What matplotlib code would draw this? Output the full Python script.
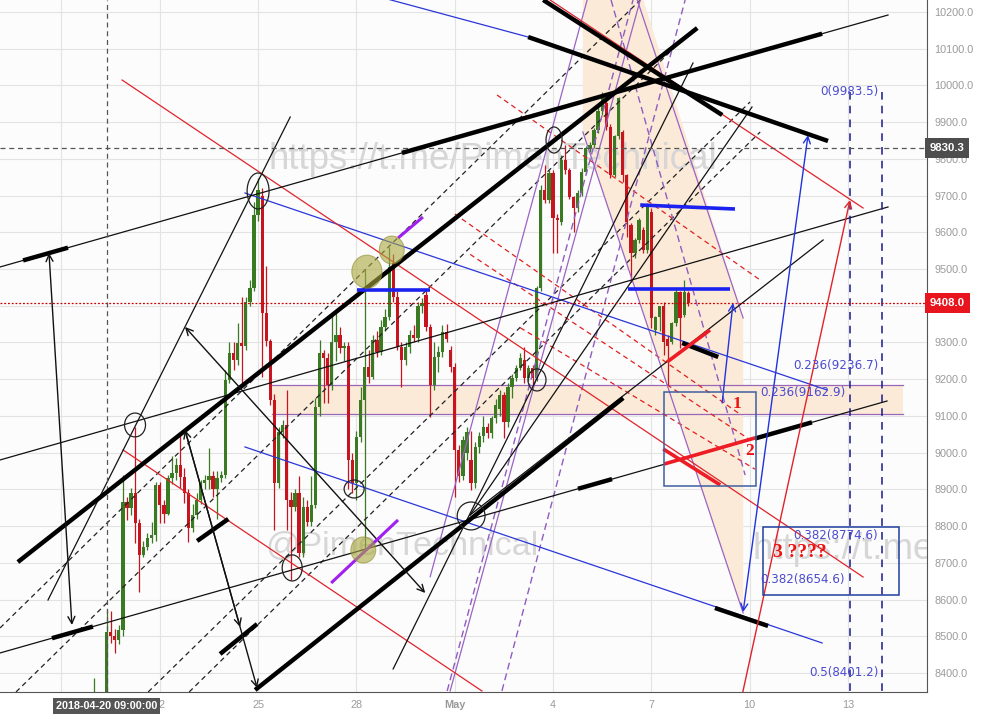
import numpy as np
import matplotlib
matplotlib.use("Agg")
import matplotlib.pyplot as plt
from matplotlib.patches import Ellipse, Rectangle, Polygon, FancyArrowPatch

# ---------------- price bars (3h), x = days since 2018-04-20 00:00 ----------------
bar_start = 0.0
bar_step = 0.125
bar_open = [8290, 8320, 8310,
    8330, 8512, 8500, 8490, 8516, 8866, 8848, 8889, 8807, 8721,
    8744, 8767, 8776, 8912, 8857, 8834, 8930, 8945, 8966, 8934,
    8889, 8794, 8830, 8870, 8916, 8925, 8935, 8900, 8930, 8939,
    9198, 9270, 9252, 9298, 9290, 9411, 9447, 9647, 9700, 9379,
    9303, 9143, 8916, 9057, 9075, 8871, 8853, 8889, 8726, 8853,
    8812, 8857, 9125, 9270, 9257, 9184, 9300, 9320, 9286, 9290,
    8980, 8916, 9043, 9143, 9234, 9207, 9307, 9275, 9343, 9370,
    9516, 9425, 9289, 9252, 9289, 9320, 9311, 9398, 9429, 9343,
    9184, 9261, 9275, 9329, 9280, 9234, 9007, 8935, 9000, 8980,
    8916, 9016, 9044, 9071, 9053, 9093, 9120, 9157, 9084, 9180,
    9202, 9230, 9252, 9202, 9230, 9202, 9447, 9715, 9688, 9761,
    9640, 9629, 9797, 9770, 9697, 9665, 9706, 9765, 9829, 9838,
    9879, 9930, 9951, 9888, 9756, 9861, 9874, 9756, 9620, 9543,
    9579, 9606, 9552, 9656, 9334, 9370, 9398, 9310, 9302, 9352,
    9438, 9375, 9434]
bar_high = [8386, 8340, 8340,
    8571, 8570, 8520, 8530, 8939, 8880, 8903, 9071, 8820, 8760,
    8780, 8810, 8920, 8921, 8870, 8939, 8990, 8985, 9048, 8957,
    8900, 8860, 8890, 8925, 8940, 9012, 8950, 8950, 8950, 9225,
    9302, 9300, 9352, 9424, 9425, 9470, 9683, 9747, 9720, 9507,
    9310, 9160, 9070, 9090, 9170, 8893, 8900, 8935, 8880, 8870,
    8935, 9150, 9307, 9280, 9270, 9380, 9380, 9343, 9300, 9300,
    9000, 9060, 9180, 9497, 9280, 9320, 9330, 9360, 9390, 9561,
    9540, 9440, 9300, 9300, 9335, 9348, 9410, 9420, 9443, 9350,
    9300, 9290, 9348, 9350, 9290, 9245, 9020, 9045, 9070, 9060,
    9030, 9055, 9100, 9080, 9100, 9145, 9170, 9165, 9190, 9215,
    9240, 9270, 9289, 9240, 9240, 9455, 9730, 9783, 9770, 9770,
    9650, 9810, 9838, 9775, 9700, 9715, 9775, 9835, 9845, 9885,
    9940, 9983.5, 9975, 9895, 9865, 9969, 9880, 9760, 9625, 9585,
    9640, 9615, 9680, 9665, 9372, 9400, 9410, 9320, 9355, 9445,
    9440, 9470, 9440]
bar_low = [8260, 8280, 8290,
    8300, 8481, 8453, 8480, 8500, 8816, 8830, 8753, 8621, 8715,
    8735, 8755, 8760, 8807, 8807, 8830, 8915, 8925, 8903, 8862,
    8757, 8785, 8820, 8860, 8900, 8900, 8880, 8820, 8920, 8930,
    9190, 9225, 9240, 9190, 9280, 9400, 9440, 9630, 9207, 9290,
    9130, 8789, 8905, 9040, 8789, 8653, 8840, 8716, 8716, 8800,
    8800, 8850, 9100, 9134, 9134, 9170, 9250, 9270, 9250, 8900,
    8890, 8870, 9030, 8735, 9190, 9200, 9260, 9265, 9330, 9360,
    9410, 9280, 9180, 9240, 9270, 9300, 9300, 9380, 9330, 9098,
    9170, 9220, 9260, 9300, 9220, 8880, 8920, 8925, 8980, 8898,
    8905, 9000, 9030, 9040, 9040, 9080, 9100, 9039, 9070, 9150,
    9195, 9225, 9190, 9195, 9185, 9195, 9440, 9680, 9680, 9543,
    9543, 9620, 9760, 9690, 9602, 9655, 9700, 9760, 9820, 9830,
    9870, 9920, 9880, 9747, 9750, 9855, 9738, 9588, 9466, 9530,
    9570, 9545, 9545, 9340, 9320, 9330, 9266, 9184, 9295, 9345,
    9284, 9370, 9400]
bar_close = [8320, 8310, 8330,
    8512, 8500, 8490, 8516, 8866, 8848, 8889, 8807, 8721, 8744,
    8767, 8776, 8912, 8857, 8834, 8930, 8945, 8966, 8934, 8889,
    8794, 8830, 8870, 8916, 8925, 8935, 8900, 8930, 8939, 9198,
    9270, 9252, 9298, 9290, 9411, 9447, 9647, 9715, 9379, 9303,
    9143, 8916, 9057, 9075, 8871, 8853, 8889, 8726, 8853, 8812,
    8857, 9125, 9270, 9257, 9184, 9300, 9320, 9286, 9290, 8980,
    8916, 9043, 9143, 9234, 9207, 9307, 9275, 9343, 9370, 9506,
    9425, 9289, 9252, 9289, 9320, 9311, 9398, 9407, 9343, 9184,
    9261, 9275, 9329, 9310, 9234, 9007, 8935, 9034, 9057, 8916,
    9016, 9044, 9071, 9053, 9093, 9130, 9157, 9084, 9180, 9202,
    9230, 9257, 9202, 9230, 9202, 9447, 9715, 9688, 9761, 9638,
    9634, 9797, 9770, 9697, 9665, 9706, 9765, 9829, 9838, 9879,
    9930, 9975, 9888, 9756, 9861, 9965, 9756, 9629, 9543, 9579,
    9634, 9552, 9670, 9366, 9370, 9398, 9302, 9290, 9352, 9438,
    9366, 9438, 9408]

last_price = 9408.0
cursor_day = 0.375          # 2018-04-20 09:00
cursor_price = 9830.3

# ---------------- axis labels ----------------
x_tick_days = [2, 5, 8, 11, 14, 17, 20, 23]
x_tick_labels = ["22", "25", "28", "May", "4", "7", "10", "13"]
x_grid_days = [-1, 2, 5, 8, 11, 14, 17, 20, 23]
y_ticks = [8400, 8500, 8600, 8700, 8800, 8900, 9000, 9100, 9200, 9300,
           9400, 9500, 9600, 9700, 9800, 9900, 10000, 10100, 10200]

# ---------------- drawings (day, price) ----------------
# parallel thin black channel lines with thick marked stretches (day ranges)
channel_lines = [((-2.875, 9505.6), (24.22, 10191.8)),
                 ((-2.875, 8980.0), (24.22, 9669.0)),
                 ((-2.875, 8454.4), (24.19, 9140.6))]
channel_thick = [[(-2.17, -0.80), (9.39, 22.21)],
                 [],
                 [(-1.29, -0.04), (14.76, 15.80), (20.16, 21.90)]]

thick_black = [((-2.33, 8702.0), (18.40, 10156.4)),
               ((4.91, 8353.6), (16.14, 9148.8)),
               ((13.70, 10232.7), (19.16, 9919.5)),
               ((13.24, 10131.9), (22.39, 9848.7)),
               ((3.14, 8759.4), (4.09, 8819.3)),
               ((3.84, 8451.6), (4.97, 8533.3)),
               ((17.94, 9298.6), (19.04, 9260.5)),
               ((18.94, 8577.0), (20.56, 8528.0))]

# fan of thin lines through the May 1 low, plus the steep line through the Apr 20-25 pivots
thin_black = [((9.12, 8410.8), (18.27, 10061.1)),
              ((11.47, 8830.2), (22.24, 9579.1)),
              ((11.47, 8830.2), (20.07, 9941.3)),
              ((-1.41, 8598.7), (5.98, 9914.0))]

blue_lines = [((4.60, 9707.1), (22.36, 9170.6)),
              ((4.60, 9015.4), (22.21, 8481.6)),
              ((8.72, 10240.8), (13.24, 10131.9))]

red_lines = [((13.91, 10232.7), (23.46, 9666.2)),
             ((0.85, 10014.8), (23.46, 8661.3)),
             ((0.88, 9007.2), (11.83, 8350.9))]

red_dashed = [((12.29, 9974.0), (20.32, 9470.0)),
              ((11.00, 9650.0), (19.70, 9105.0)),
              ((11.47, 9540.0), (20.01, 9035.0)),
              ((13.00, 9340.0), (20.16, 8955.0))]

black_dashed = [((-2.875, 8522.4), (16.66, 10232.7)),
                ((-2.386, 8348.2), (18.25, 10151.0)),
                ((1.646, 8348.2), (20.01, 9954.9)),
                ((2.897, 8348.2), (20.32, 9873.2))]

purple_lines = [((10.25, 8662.0), (15.04, 10232.7)),
                ((10.86, 8351.0), (16.66, 10232.7)),
                ((14.91, 9873.2), (19.80, 8563.3)),
                ((16.57, 10232.7), (19.80, 9366.7))]
purple_dashed = [((10.77, 8351.0), (16.44, 10232.7)),
                 ((12.44, 8351.0), (18.03, 10232.7)),
                 ((15.77, 10232.7), (19.86, 8939.0))]

blue_levels = [((8.02, 9442.9), (10.25, 9442.9)),
               ((16.29, 9445.6), (19.40, 9445.6)),
               ((16.66, 9674.4), (19.55, 9663.5))]
red_thick = [((17.48, 9246.8), (18.79, 9334.0)),
             ((17.36, 9010.0), (19.10, 8912.0)),
             ((17.39, 8969.0), (20.16, 9040.0))]
violet_marks = [((7.23, 8645.0), (9.27, 8816.6)),
                ((9.27, 9584.5), (10.03, 9641.7))]

black_arrows = [((-1.38, 9543.7), (-0.68, 8530.6), "<->"),
                ((2.77, 9342.2), (10.10, 8617.8), "<->"),
                ((2.77, 9061.7), (4.97, 8359.0), "<->"),
                ((2.77, 9061.7), (4.45, 8525.2), "->")]
blue_arrows = [((19.16, 9135.2), (19.49, 9407.5), "->"),
               ((19.80, 8566.0), (21.78, 9865.0), "<->")]
red_arrows = [((19.77, 8340.0), (23.06, 9688.0), "->")]

olive_marks = [(8.32, 9492.8, 0.92, 90), (9.08, 9551.9, 0.76, 76),
               (8.21, 8734.9, 0.76, 71)]
pivot_rings = [(5.00, 9712.5, 0.67, 98), (1.245, 9075.3, 0.64, 65),
               (6.04, 8686.0, 0.61, 71), (7.93, 8901.0, 0.61, 49),
               (11.50, 8827.5, 0.85, 76), (13.51, 9198.0, 0.55, 60),
               (14.03, 9851.4, 0.49, 71)]

zone_band = (5.42, 24.68, 9104.0, 9184.0)
zone_poly = [(14.91, 10260.0), (16.66, 10260.0), (19.80, 9366.7),
             (19.80, 8563.3), (14.91, 9873.2)]
target_boxes = [(17.39, 20.19, 8909.0, 9166.0, "#3f5f9f"),
                (20.42, 24.57, 8612.0, 8798.3, "#1f3f9f")]

fib_levels = [("0", 9983.5, 23.92), ("0.236", 9236.7, 23.92),
              ("0.236", 9162.9, 22.91), ("0.382", 8774.6, 23.92),
              ("0.382", 8654.6, 22.91), ("0.5", 8401.2, 23.92)]
fib_verticals = [23.05, 24.05]

wave_marks = [("1", 19.49, 9132.0, 12.5), ("2", 19.86, 9004.0, 12.5),
              ("3 ????", 20.72, 8727.0, 14)]

# ---------------- figure ----------------
W, H = 982, 719
Y0, Y1 = 8348.1, 10232.7
fig = plt.figure(figsize=(W / 100, H / 100), dpi=100)
fig.patch.set_facecolor("white")
ax = fig.add_axes([0, 27 / H, 927 / W, 692 / H])
ax.set_facecolor("#fcfcfc")
ax.set_xlim(-2.875, 25.41)
ax.set_ylim(Y0, Y1)

for d in x_grid_days:
    ax.axvline(d, color="#e3e3e3", lw=0.8, zorder=0)
for p in y_ticks:
    ax.axhline(p, color="#e3e3e3", lw=0.8, zorder=0)

# zones
ax.add_patch(Rectangle((zone_band[0], zone_band[2]), zone_band[1] - zone_band[0],
                       zone_band[3] - zone_band[2], facecolor="#fbead7",
                       edgecolor="none", zorder=1))
for p in zone_band[2:]:
    ax.plot(zone_band[:2], [p, p], color="#9a66b8", lw=0.9, zorder=2)
ax.add_patch(Polygon(zone_poly, closed=True, facecolor="#fbead7",
                     edgecolor="none", zorder=1))

# watermarks
wm = dict(color="#d6d6d6", family="Liberation Sans", zorder=2,
          va="center", ha="left", clip_on=True)
ax.text(5.31, 9797, "https://t.me/PimenTechnical", fontsize=26.5, **wm)
ax.text(5.21, 8743, "@PimenTechnical", fontsize=24.5, **wm)
ax.text(20.10, 8735, "https://t.me/PimenTechnical", fontsize=26.5, **wm)

# candles
n = len(bar_close)
t = bar_start + bar_step * np.arange(n)
o = np.array(bar_open); c = np.array(bar_close)
hi = np.array(bar_high); lo = np.array(bar_low)
up = c >= o
col = np.where(up, "#3a7a22", "#c8141e")
ax.vlines(t, lo, hi, colors=col, lw=0.9, zorder=4)
body_lo = np.minimum(o, c)
body_h = np.maximum(np.abs(c - o), 4)
ax.bar(t, body_h, bottom=body_lo, width=0.1, color=col, linewidth=0, zorder=5)


def seg(a, b, **kw):
    ax.plot([a[0], b[0]], [a[1], b[1]], **kw)


for a, b in black_dashed:
    seg(a, b, color="#222222", lw=0.9, dashes=(4, 3), zorder=6)
for a, b in red_dashed:
    seg(a, b, color="#e02020", lw=0.9, dashes=(4, 3), zorder=6)
for a, b in purple_lines:
    seg(a, b, color="#9b63c4", lw=0.9, zorder=6)
for a, b in purple_dashed:
    seg(a, b, color="#8f5cc0", lw=1.0, dashes=(5, 3), zorder=6)
for a, b in blue_lines:
    seg(a, b, color="#2a36d8", lw=0.9, zorder=6)
for a, b in red_lines:
    seg(a, b, color="#e0232a", lw=0.9, zorder=6)
for a, b in thin_black:
    seg(a, b, color="#111111", lw=0.9, zorder=6)
for (a, b), spans in zip(channel_lines, channel_thick):
    seg(a, b, color="#111111", lw=0.9, zorder=6)
    for s0, s1 in spans:
        ys = np.interp([s0, s1], [a[0], b[0]], [a[1], b[1]])
        ax.plot([s0, s1], ys, color="#000000", lw=3.2, solid_capstyle="butt", zorder=7)
for a, b in thick_black:
    seg(a, b, color="#000000", lw=3.2, solid_capstyle="butt", zorder=7)
for a, b in blue_levels:
    seg(a, b, color="#1b22f0", lw=2.6, solid_capstyle="butt", zorder=8)
for a, b in red_thick:
    seg(a, b, color="#ee1c24", lw=2.6, solid_capstyle="butt", zorder=8)
for a, b in violet_marks:
    seg(a, b, color="#a020f0", lw=2.2, solid_capstyle="butt", zorder=8)

for group, colr in ((black_arrows, "#111111"), (blue_arrows, "#2233dd"),
                    (red_arrows, "#e0232a")):
    for a, b, st in group:
        ax.add_patch(FancyArrowPatch(a, b, arrowstyle=st + ",head_length=5,head_width=2.5",
                                     color=colr, lw=1.0, zorder=7,
                                     shrinkA=0, shrinkB=0))

for x, y, w, h in olive_marks:
    ax.add_patch(Ellipse((x, y), w, h, facecolor="#a9a83e", alpha=0.6,
                         edgecolor="#8d8c30", lw=0.8, zorder=9))
for x, y, w, h in pivot_rings:
    ax.add_patch(Ellipse((x, y), w, h, fill=False, edgecolor="#222222",
                         lw=0.9, zorder=9))

for x0, x1, y0, y1, ec in target_boxes:
    ax.add_patch(Rectangle((x0, y0), x1 - x0, y1 - y0, fill=False,
                           edgecolor=ec, lw=1.1, zorder=9))

# fib levels
for x in fib_verticals:
    ax.plot([x, x], [9983.5, 8300], color="#1a1a8a", lw=1.1, dashes=(5, 4), zorder=6)
for lvl, price, xr in fib_levels:
    ax.text(xr, price, f"{lvl}({price:.1f})", color="#4b4bd0", fontsize=8.6,
            family="DejaVu Sans", ha="right", va="center", zorder=10)

for txt, x, y, fs in wave_marks:
    ax.text(x, y, txt, color="#ee1111", fontsize=fs, fontweight="bold",
            family="Liberation Serif", ha="left", va="center", zorder=10)

# cursor and last price
ax.axhline(last_price, color="#cc0000", lw=0.9, dashes=(1.5, 1.5), zorder=6)
ax.axhline(cursor_price, color="#555555", lw=0.9, dashes=(4, 3), zorder=6)
ax.axvline(cursor_day, color="#555555", lw=0.9, dashes=(4, 3), zorder=6)

# axes styling
for s in ("top", "left"):
    ax.spines[s].set_visible(False)
ax.spines["right"].set_color("#555555")
ax.spines["bottom"].set_color("#555555")
ax.yaxis.tick_right()
ax.set_yticks(y_ticks)
ax.set_yticklabels([f"{p:.1f}" for p in y_ticks])
ax.tick_params(axis="y", length=0, pad=5.5, labelsize=7.8, labelcolor="#9a9a9a")
ax.set_xticks(x_tick_days)
ax.set_xticklabels(x_tick_labels)
ax.tick_params(axis="x", length=0, pad=6, labelsize=7.8, labelcolor="#9a9a9a")
for lab in ax.get_xticklabels() + ax.get_yticklabels():
    lab.set_family("Liberation Sans")
    if lab.get_text() == "May":
        lab.set_fontweight("bold")

box_txt = dict(ha="left", va="center", fontsize=8.2, fontweight="bold",
               color="white", family="Liberation Sans", zorder=20)
ax.text(1.003, (cursor_price - Y0) / (Y1 - Y0), f"{cursor_price:.1f}",
        transform=ax.transAxes,
        bbox=dict(boxstyle="square,pad=0.42", fc="#4d4d4d", ec="none"), **box_txt)
ax.text(1.003, (last_price - Y0) / (Y1 - Y0), f"{last_price:.1f}",
        transform=ax.transAxes,
        bbox=dict(boxstyle="square,pad=0.42", fc="#e8141e", ec="none"), **box_txt)
ax.text(cursor_day, -0.013, "2018-04-20 09:00:00", transform=ax.get_xaxis_transform(),
        ha="center", va="top", fontsize=7.8, fontweight="bold", color="white",
        family="Liberation Sans",
        bbox=dict(boxstyle="square,pad=0.3", fc="#555555", ec="none"), zorder=20)

fig.savefig("out.png", dpi=100)
